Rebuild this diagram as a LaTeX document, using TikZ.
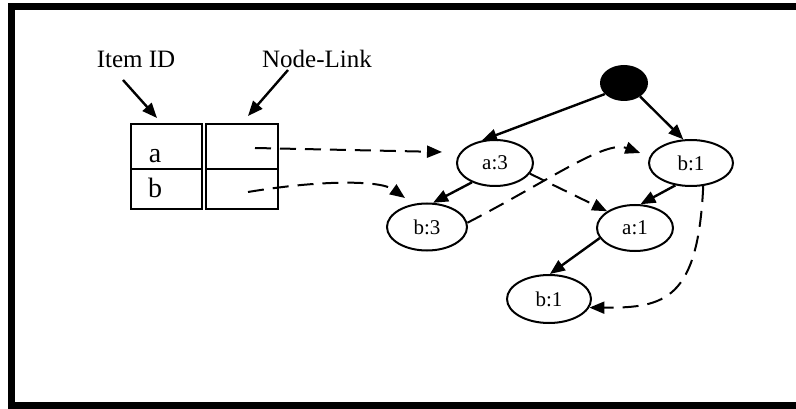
\documentclass[tikz,border=0pt]{standalone}
\usepackage{fontspec}
\setmainfont{Liberation Serif}
\usetikzlibrary{arrows.meta,shapes.geometric}
\begin{document}
\begin{tikzpicture}[x=1pt,y=-1pt,
  frame/.style={line width=7pt},
  cell/.style={draw,line width=2pt,rectangle,inner sep=0pt,minimum width=71pt,anchor=north west},
  celltext/.style={anchor=base,inner sep=0pt,font=\fontsize{28}{30}\selectfont},
  caption/.style={anchor=base,inner sep=0pt,font=\fontsize{25}{27}\selectfont},
  tnode/.style={draw,ellipse,line width=2pt,inner sep=0pt,font=\fontsize{21}{23}\selectfont},
  tip/.style={-{Triangle[length=15pt,width=12pt]}},
  tree/.style={tip,line width=2.4pt},
  link/.style={tip,line width=2pt,dash pattern=on 16pt off 9pt}
]
\useasboundingbox (0,0) rectangle (796,409);
\clip (0,0) rectangle (796,409);
\fill[white] (0,0) rectangle (796,409);

% outer frame, open on the right
\draw[frame] (810,7) -- (11,7) -- (11,405) -- (810,405);

% header table
\node[cell,minimum height=45pt] (ida) at (130,123) {};
\node[cell,minimum height=40pt] (idb) at (130,168) {};
\node[cell,minimum height=45pt,minimum width=72pt] (nla) at (204.5,123) {};
\node[cell,minimum height=40pt,minimum width=72pt] (nlb) at (204.5,168) {};
\node[celltext] (ta) at (155,163) {a};
\node[celltext] (tb) at (155,198) {b};

% column captions
\node[caption] (itemid) at (136,68) {Item ID};
\node[caption] (nodelink) at (317,68) {Node-Link};
\coordinate (itemfrom) at (123,80);
\coordinate (itemto) at (157,118);
\coordinate (linkfrom) at (288,70);
\coordinate (linkto) at (248,116);
\draw[tree] (itemfrom) -- (itemto);
\draw[tree] (linkfrom) -- (linkto);

% FP-tree
\node[ellipse,fill=black,inner sep=0pt,minimum width=48pt,minimum height=36pt] (root) at (624,83) {};
\node[tnode,minimum width=76pt,minimum height=46pt] (a3) at (495,163) {a:3};
\node[tnode,minimum width=84pt,minimum height=46pt] (b1r) at (691,163) {b:1};
\node[tnode,minimum width=80pt,minimum height=47pt] (b3) at (427,227) {b:3};
\node[tnode,minimum width=76pt,minimum height=46pt] (a1) at (635,228) {a:1};
\node[tnode,minimum width=84pt,minimum height=48pt] (b1b) at (549,299) {b:1};

\draw[tree] (root.210) -- (a3.120);
\draw[tree] (root.-40) -- (b1r.108);
\draw[tree] (a3.220) -- (b3.76);
\draw[tree] (b1r.235) -- (a1.77);
\draw[tree] (a1.196) -- (b1b.88);

% node-links
\coordinate (la) at (255,148);
\coordinate (lb) at (248,192);
\coordinate (tipa) at (442,152);
\coordinate (tipb) at (405,198);
\draw[link] (la) -- (tipa);
\draw[link] (lb) .. controls (320,180) and (380,180) .. (tipb);
\draw[link] (a3.-17) -- (a1.149);
\draw[link,shorten >=10pt] (b3.6) .. controls (550,180) and (605,140) .. (b1r.171);
\draw[link] (b1r.-62) .. controls (698,300) and (665,308) .. (b1b.-12);
\end{tikzpicture}
\end{document}
